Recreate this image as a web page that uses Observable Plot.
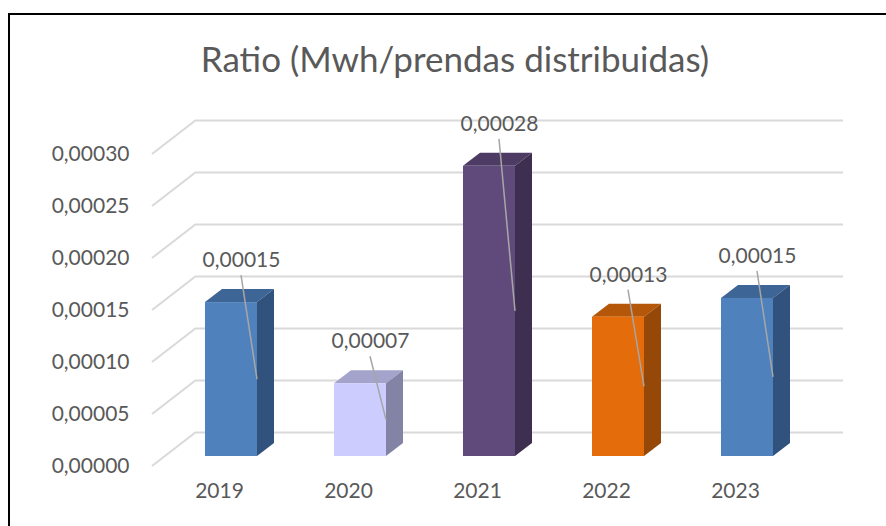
<!DOCTYPE html>
<html>
<head>
<meta charset="utf-8">
<script src="https://cdn.jsdelivr.net/npm/d3@7"></script>
<script src="https://cdn.jsdelivr.net/npm/@observablehq/plot@0.6"></script>
<style>
  html, body { margin: 0; padding: 0; background: #fff; }
  #wrap { position: relative; width: 886px; height: 526px; overflow: hidden; font-family: Lato, "Open Sans", sans-serif; }
  #frame { position: absolute; left: 8px; top: 13px; width: 900px; height: 600px; border: 2px solid #000; box-sizing: border-box; z-index: 2; pointer-events: none; }
  #title { height: 100px; width: 886px; box-sizing: border-box; padding-left: 24px; text-align: center; color: #595959; font-size: 35px; line-height: 100px; padding-top: 16px; line-height: 84px; }
  #chart svg { display: block; }
</style>
</head>
<body>
<div id="wrap">
  <div id="frame"></div>
  <div id="title">Ratio (Mwh/prendas distribuidas)</div>
  <div id="chart"></div>
</div>
<script>
// ---- data ----
const years = ["2019", "2020", "2021", "2022", "2023"];
const values = [0.000148, 0.000070, 0.000279, 0.000134, 0.000152];
const yTicks = [0, 0.00005, 0.00010, 0.00015, 0.00020, 0.00025, 0.00030];

// ---- styles ----
const frontColors = ["#4F81BD", "#CCCCFF", "#604A7B", "#E46C0A", "#4F81BD"];
const topColors   = ["#3D6595", "#A3A3CC", "#4D3B63", "#B45708", "#3D6595"];
const sideColors  = ["#30527C", "#8383A6", "#3E2F51", "#954808", "#30527C"];

const data = years.map((year, i) => ({year, value: values[i], front: frontColors[i], top: topColors[i], side: sideColors[i]}));
const fmt = v => d3.format(".5f")(v).replace(".", ",");

// oblique projection offsets (pixels)
const FLOOR_DX = -44, FLOOR_DY = 34;   // back wall -> front edge of floor
const BAR_DX = -31, BAR_DY = 24;       // back wall -> bar front face
const DEPTH_DX = 17, DEPTH_DY = -13;   // bar depth
const textColor = "#595959";

function diagonals(index, scales, values, dims) {
  const y = scales.y;
  const g = d3.create("svg:g");
  for (const t of yTicks) {
    const yy = y(t);
    g.append("line")
      .attr("x1", dims.marginLeft).attr("y1", yy)
      .attr("x2", dims.marginLeft + FLOOR_DX).attr("y2", yy + FLOOR_DY)
      .attr("stroke", "#D9D9D9").attr("stroke-width", 2);
  }
  return g.node();
}

function faces(index, scales) {
  const x = scales.x, y = scales.y;
  const bw = x.bandwidth();
  const g = d3.create("svg:g");
  data.forEach(d => {
    const xl = x(d.year) + BAR_DX, xr = xl + bw;
    const yt = y(d.value) + BAR_DY, yb = y(0) + BAR_DY;
    g.append("polygon")
      .attr("points", [[xl, yt], [xr, yt], [xr + DEPTH_DX, yt + DEPTH_DY], [xl + DEPTH_DX, yt + DEPTH_DY]].join(" "))
      .attr("fill", d.top);
    g.append("polygon")
      .attr("points", [[xr, yt], [xr + DEPTH_DX, yt + DEPTH_DY], [xr + DEPTH_DX, yb + DEPTH_DY], [xr, yb]].join(" "))
      .attr("fill", d.side);
  });
  return g.node();
}

const LABEL_DX = -21, LABEL_DY = -18;

function leaders(index, scales) {
  const x = scales.x, y = scales.y;
  const bw = x.bandwidth();
  const g = d3.create("svg:g");
  data.forEach(d => {
    const cx = x(d.year) + bw / 2;
    const xr = x(d.year) + BAR_DX + bw;
    const yt = y(d.value) + BAR_DY, yb = y(0) + BAR_DY;
    g.append("line")
      .attr("x1", cx + LABEL_DX).attr("y1", y(d.value) + LABEL_DY + 15)
      .attr("x2", xr).attr("y2", (yt + yb) / 2)
      .attr("stroke", "#A6A6A6").attr("stroke-width", 1.5);
  });
  return g.node();
}

const chart = Plot.plot({
  width: 886,
  height: 426,
  marginTop: 20,
  marginBottom: 94,
  marginLeft: 196,
  marginRight: 43,
  style: {background: "transparent", fontFamily: "Lato, 'Open Sans', sans-serif", fontSize: "21px", color: textColor},
  x: {domain: years, paddingInner: 0.6, paddingOuter: 0.3, axis: null},
  y: {domain: [0, 0.0003], axis: null},
  marks: [
    Plot.ruleY(yTicks, {y: d => d, stroke: "#D9D9D9", strokeWidth: 2, strokeOpacity: 1}),
    diagonals,
    faces,
    Plot.barY(data, {x: "year", y: "value", fill: d => d.front, dx: BAR_DX, dy: BAR_DY}),
    leaders,
    Plot.text(data, {x: "year", y: "value", text: d => fmt(d.value), dx: LABEL_DX, dy: LABEL_DY, fill: textColor, fontSize: 21}),
    Plot.text(yTicks, {y: d => d, text: d => fmt(d), frameAnchor: "left", textAnchor: "end", dx: -67, dy: FLOOR_DY, fill: textColor, fontSize: 21}),
    Plot.text(years, {x: d => d, text: d => d, frameAnchor: "bottom", dx: -43, dy: 65, fill: textColor, fontSize: 21})
  ]
});
document.getElementById("chart").appendChild(chart);
</script>
</body>
</html>
